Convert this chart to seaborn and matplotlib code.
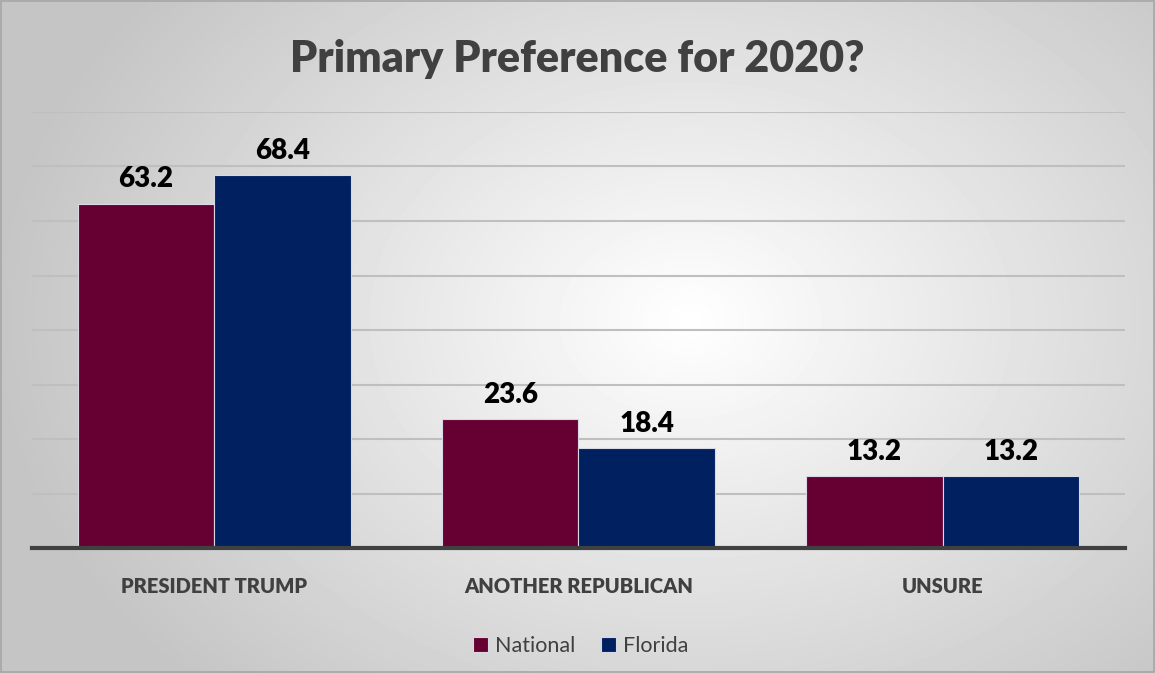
import numpy as np
import pandas as pd
import matplotlib
matplotlib.use("Agg")
import matplotlib.pyplot as plt
import seaborn as sns

# Chart data
categories = ["PRESIDENT TRUMP", "ANOTHER REPUBLICAN", "UNSURE"]
national = [63.2, 23.6, 13.2]
florida = [68.4, 18.4, 13.2]
series_names = ["National", "Florida"]
colors = ["#660033", "#002060"]

df = pd.DataFrame({
    "category": categories * 2,
    "value": national + florida,
    "series": [series_names[0]] * 3 + [series_names[1]] * 3,
})

sns.set_style("white")
plt.rcParams["font.family"] = ["Lato", "DejaVu Sans"]

fig = plt.figure(figsize=(11.55, 6.73), dpi=100)

# radial gradient background
bg = fig.add_axes([0, 0, 1, 1], zorder=-10)
yy, xx = np.mgrid[0:673, 0:1155]
r = np.sqrt(((xx - 690) / 700.0) ** 2 + ((yy - 320) / 520.0) ** 2)
shade = np.clip(1.0 - 0.23 * r, 0.77, 1.0)
bg.imshow(shade, cmap="gray", vmin=0, vmax=1, aspect="auto", extent=[0, 1, 0, 1])
bg.set_axis_off()
fig.add_artist(plt.Rectangle((0.0005, 0.001), 0.999, 0.998, transform=fig.transFigure,
                             fill=False, edgecolor="#a6a6a6", linewidth=1.2))

ax = fig.add_axes([0.0277, 0.1857, 0.9463, 0.6479])
ax.patch.set_alpha(0)
sns.barplot(data=df, x="category", y="value", hue="series", palette=colors,
            width=0.75, edgecolor="#d9d9e6", linewidth=0.8, saturation=1,
            ax=ax, zorder=3)

ax.set_ylim(0, 80)
ax.set_xlim(-0.5, 2.5)
ax.set_yticks(np.arange(10, 81, 10))
ax.yaxis.grid(True, color="#bfbfbf", linewidth=1.5, zorder=0)
ax.set_yticklabels([])
ax.tick_params(axis="y", length=0)
ax.tick_params(axis="x", length=0, pad=21)
for s in ["top", "right", "left"]:
    ax.spines[s].set_visible(False)
ax.spines["bottom"].set_color("#404040")
ax.spines["bottom"].set_linewidth(3)
ax.spines["bottom"].set_zorder(5)
ax.set_xlabel("")
ax.set_ylabel("")
for lbl in ax.get_xticklabels():
    lbl.set_fontsize(14.5)
    lbl.set_fontweight("heavy")
    lbl.set_color("#404040")

for cont in ax.containers:
    ax.bar_label(cont, fmt="%.1f", padding=8, fontsize=20, fontweight="heavy", color="black")

ax.legend(loc="center", bbox_to_anchor=(0.502, -0.225), ncol=2, frameon=False,
          fontsize=15.5, handlelength=0.7, handleheight=0.7, handletextpad=0.3,
          columnspacing=1.2, labelcolor="#404040")

fig.text(0.5, 0.912, "Primary Preference for 2020?", ha="center", va="center",
         fontsize=31, fontweight="heavy", color="#404040")

fig.savefig("out.png", dpi=100)
